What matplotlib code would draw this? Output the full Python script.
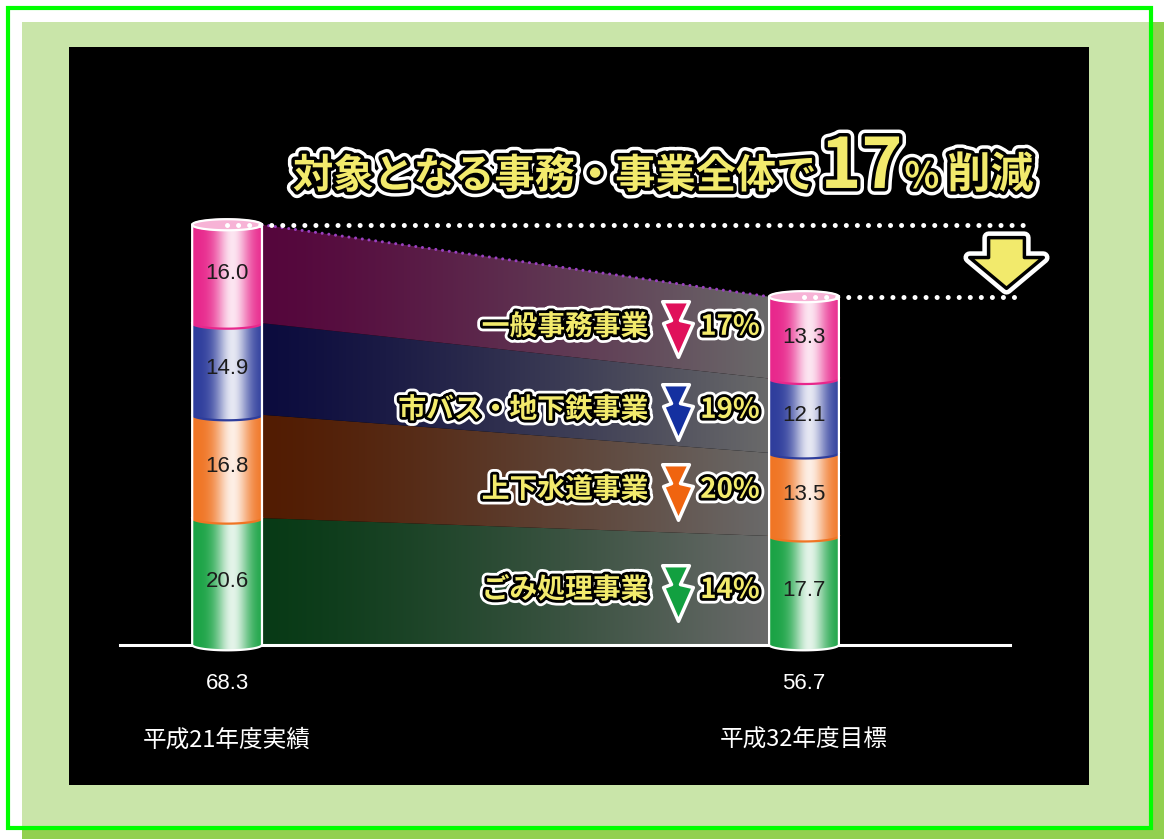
import numpy as np
import matplotlib
matplotlib.use("Agg")
import matplotlib.pyplot as plt
from matplotlib.patches import Rectangle, PathPatch
from matplotlib.path import Path
from matplotlib.colors import to_rgb
import matplotlib.patheffects as pe

plt.rcParams['font.family'] = ['Noto Sans CJK JP', 'DejaVu Sans']

# ---- data ----
years = ["平成21年度実績", "平成32年度目標"]
totals = [68.3, 56.7]
segments = ["ごみ処理事業", "上下水道事業", "市バス・地下鉄事業", "一般事務事業"]
vals_2009 = [20.6, 16.8, 14.9, 16.0]
vals_2020 = [17.7, 13.5, 12.1, 13.3]
cuts = ["14%", "20%", "19%", "17%"]
total_cut = "17"

# ---- style ----
seg_colors = ["#1aa345", "#f07524", "#2e3d9c", "#e8278c"]
band_colors = ["#083a16", "#521c02", "#0c0c3e", "#55063c"]
arrow_colors = ["#12a040", "#f0640f", "#1430a0", "#e0105a"]
label_y = [8.9, 25.2, 38.2, 51.7]
yellow = "#f2ea6c"

W, H = 1164, 839
fig = plt.figure(figsize=(W / 100, H / 100), dpi=100)
fig.patch.set_facecolor("white")


def fig_rect(x0, y0, x1, y1, **kw):
    fig.add_artist(Rectangle((x0 / W, 1 - y1 / H), (x1 - x0) / W, (y1 - y0) / H,
                             transform=fig.transFigure, zorder=-5, **kw))


# page frame
fig_rect(22, 22, W, H, facecolor="#92d050", edgecolor="none")
fig_rect(22, 22, 1151, 828, facecolor="#c9e5a9", edgecolor="none")
fig_rect(8, 8, 1151, 828, facecolor="none", edgecolor="#00ff00", linewidth=3)

ax = fig.add_axes([69 / W, 1 - 785 / H, 1020 / W, 738 / H])
ax.set_facecolor("black")
for s in ax.spines.values():
    s.set_visible(False)
ax.set_xticks([])
ax.set_yticks([])

xlim = (-0.274, 1.494)
ylim = (-22.8, 97.2)
bw = 0.121          # cylinder width
ry = 0.9            # ellipse half height
xs = [0, 1]


def gradient_fill(path, c_left, c_right, x0, x1, y0, y1, fn, z):
    t = np.linspace(0, 1, 256)
    f = fn(t)[:, None]
    rgb = np.array(to_rgb(c_left)) * (1 - f) + np.array(to_rgb(c_right)) * f
    im = ax.imshow(rgb[None, :, :], extent=(x0, x1, y0, y1), aspect="auto",
                   origin="lower", zorder=z, interpolation="bilinear")
    patch = PathPatch(path, facecolor="none", edgecolor="none", transform=ax.transData)
    ax.add_patch(patch)
    im.set_clip_path(patch)


# ---- bands between the two cylinders ----
cum1 = np.concatenate([[0], np.cumsum(vals_2009)])
cum2 = np.concatenate([[0], np.cumsum(vals_2020)])
xl, xr = xs[0] + bw / 2, xs[1] - bw / 2
for i in range(4):
    verts = [(xl, cum1[i]), (xr, cum2[i]), (xr, cum2[i + 1]), (xl, cum1[i + 1]), (xl, cum1[i])]
    p = Path(verts, closed=True)
    gradient_fill(p, band_colors[i], "#6a6a6a", xl, xr, 0, cum1[i + 1],
                  lambda t: t ** 1.3, 1)
ax.plot([xl, xr], [cum1[-1], cum2[-1]], color="#9a40c0", lw=2.2,
        linestyle=(0, (0.01, 2.2)), dash_capstyle="round", zorder=2)

# baseline
ax.plot([-0.185, 1.357], [0, 0], color="white", lw=2.2, zorder=2)


def half_ellipse(xc, yc, n=40):
    th = np.linspace(np.pi, 2 * np.pi, n)
    return xc + bw / 2 * np.cos(th), yc + ry * np.sin(th)


def cylinder(xc, vals, total):
    cum = np.concatenate([[0], np.cumsum(vals)])
    for i, v in enumerate(vals):
        y0, y1 = cum[i], cum[i + 1]
        ex, ey = half_ellipse(xc, y0)
        verts = [(xc - bw / 2, y1)] + list(zip(ex, ey)) + [(xc + bw / 2, y1), (xc - bw / 2, y1)]
        p = Path(verts, closed=True)
        gradient_fill(p, seg_colors[i], "white", xc - bw / 2, xc + bw / 2, y0 - ry, y1,
                      lambda t: 0.88 * np.exp(-((t - 0.58) / 0.24) ** 2), 3)
        if i > 0:
            ax.plot(ex, ey, color=seg_colors[i], lw=1.6, zorder=3.5)
        ax.text(xc, (y0 + y1) / 2, f"{v:.1f}", ha="center", va="center", fontsize=16,
                color="#1c1c1c", family="Liberation Sans", zorder=6)
    top = cum[-1]
    th = np.linspace(0, 2 * np.pi, 80)
    ax.fill(xc + bw / 2 * np.cos(th), top + ry * np.sin(th), color="#f7b3d6", zorder=3.6)
    # white outline
    ex, ey = half_ellipse(xc, 0)
    ox = [xc - bw / 2] + list(ex) + [xc + bw / 2]
    oy = [top] + list(ey) + [top]
    ax.plot(ox, oy, color="white", lw=1.6, zorder=3.7)
    ax.plot(xc + bw / 2 * np.cos(th), top + ry * np.sin(th), color="white", lw=1.6, zorder=3.7)


for xc, vals, tot in zip(xs, [vals_2009, vals_2020], totals):
    cylinder(xc, vals, tot)

# dotted guide lines from the tops
dot = dict(color="white", lw=3.6, linestyle=(0, (0.01, 2.2)), dash_capstyle="round", zorder=4)
ax.plot([xs[0], 1.392], [sum(vals_2009)] * 2, **dot)
ax.plot([xs[1], 1.374], [sum(vals_2020)] * 2, **dot)

# big yellow arrow
big_arrow = Path([(-18, 25), (18, 25), (18, 5), (37, 5), (0, -26), (-37, 5), (-18, 5), (-18, 25)],
                 closed=True)
ax.plot(1.35, 62.3, marker=big_arrow, markersize=53, mfc=yellow, mec="white", mew=9, zorder=5)
ax.plot(1.35, 62.3, marker=big_arrow, markersize=53, mfc=yellow, mec="black", mew=2.5, zorder=5.1)

# ---- segment labels with zigzag arrows ----
outline = [pe.Stroke(linewidth=8, foreground="white"),
           pe.Stroke(linewidth=4, foreground="black"), pe.Normal()]
zig = Path([(-15, 28), (12, 28), (3, 9), (16, 6), (1, -28), (-14, 6), (-6, 9), (-15, 28)],
           closed=True)
for i in range(4):
    ax.text(0.730, label_y[i], segments[i], ha="right", va="center", fontsize=20,
            fontweight="bold", color=yellow, path_effects=outline, zorder=6)
    ax.plot(0.78, label_y[i] - 0.4, marker=zig, markersize=40, mfc=arrow_colors[i],
            mec="white", mew=2.5, zorder=6)
    ax.text(0.82, label_y[i], cuts[i], ha="left", va="center", fontsize=20,
            fontweight="bold", color=yellow, path_effects=outline, zorder=6)

# ---- bottom labels ----
tr = ax.get_xaxis_transform()
for xc, tot, yr in zip(xs, totals, years):
    ax.text(xc, 0.138, f"{tot:.1f}", transform=tr, ha="center", va="center",
            fontsize=16, color="white", family="Liberation Sans")
    ax.text(xc, 0.061, yr, transform=tr, ha="center", va="center",
            fontsize=17, color="white")

ax.set_xlim(*xlim)
ax.set_ylim(*ylim)

# ---- headline, built piece by piece ----
title_outline = [pe.Stroke(linewidth=10, foreground="white"),
                 pe.Stroke(linewidth=5, foreground="black"), pe.Normal()]
pieces = [("対象となる事務・事業全体で", 29, 0.004),
          (total_cut, 50, 0.002),
          ("%", 26, 0.008),
          ("削減", 31, 0.0)]
renderer = fig.canvas.get_renderer()
x = (293 - 69) / 1020
for s, size, gap in pieces:
    t = ax.text(x, 0.809, s, transform=ax.transAxes, ha="left", va="baseline",
                fontsize=size, fontweight="bold", color=yellow,
                path_effects=title_outline, zorder=7)
    x += t.get_window_extent(renderer).width / ax.bbox.width + gap

fig.savefig("out.png", dpi=100)
